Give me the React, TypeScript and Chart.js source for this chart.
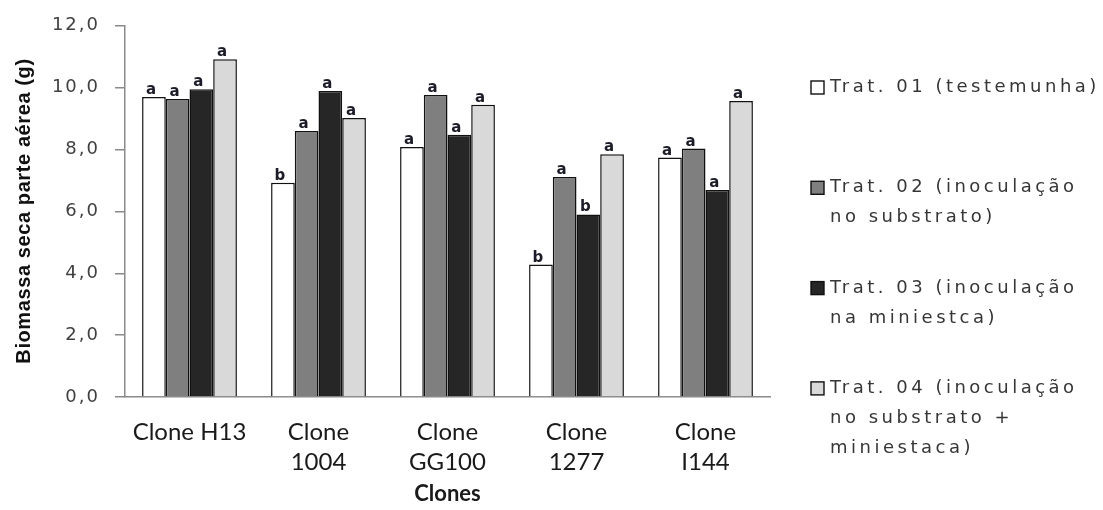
import React, { useEffect, useRef } from 'react';
import { Chart, registerables } from 'chart.js';

Chart.register(...registerables);

// ---- Data ----
const clones: (string | string[])[] = ['Clone H13', ['Clone', '1004'], ['Clone', 'GG100'], ['Clone', '1277'], ['Clone', 'I144']];

const trat01 = [9.70, 6.93, 8.08, 4.28, 7.74];
const trat02 = [9.63, 8.60, 9.76, 7.11, 8.03];
const trat03 = [9.95, 9.89, 8.48, 5.90, 6.69];
const trat04 = [10.92, 9.02, 9.45, 7.85, 9.57];

const letters01 = ['a', 'b', 'a', 'b', 'a'];
const letters02 = ['a', 'a', 'a', 'a', 'a'];
const letters03 = ['a', 'a', 'a', 'b', 'a'];
const letters04 = ['a', 'a', 'a', 'a', 'a'];

const legend01 = ['Trat. 01 (testemunha)'];
const legend02 = ['Trat. 02 (inoculação', 'no substrato)'];
const legend03 = ['Trat. 03 (inoculação', 'na miniestca)'];
const legend04 = ['Trat. 04 (inoculação', 'no substrato +', 'miniestaca)'];

const yTickLabels = ['0,0', '2,0', '4,0', '6,0', '8,0', '10,0', '12,0'];
const yTitle = 'Biomassa seca parte aérea (g)';
const xTitle = 'Clones';

const colors = ['#ffffff', '#7f7f7f', '#262626', '#d9d9d9'];
const seriesValues = [trat01, trat02, trat03, trat04];
const seriesLetters = [letters01, letters02, letters03, letters04];
const seriesLegend = [legend01, legend02, legend03, legend04];

const letterPlugin = {
  id: 'letters',
  beforeDraw(chart: any) {
    (chart.ctx as any).letterSpacing = '0px';
  },
  afterDatasetsDraw(chart: any) {
    const ctx = chart.ctx;
    ctx.save();
    (ctx as any).letterSpacing = '0px';
    ctx.font = 'bold 15px "DejaVu Sans"';
    ctx.fillStyle = '#1c1c28';
    ctx.textAlign = 'center';
    ctx.textBaseline = 'alphabetic';
    seriesLetters.forEach((letters, i) => {
      const meta = chart.getDatasetMeta(i);
      meta.data.forEach((el: any, j: number) => {
        ctx.fillText(letters[j], el.x - 3, el.y - 3);
      });
    });
    ctx.restore();
    // y tick labels (drawn after this, z = 1) use a wider letter spacing
    (ctx as any).letterSpacing = '2px';
  },
};

const decorPlugin = {
  id: 'decor',
  afterDraw(chart: any) {
    const ctx = chart.ctx;
    (ctx as any).letterSpacing = '0px';
    // y title
    ctx.save();
    ctx.translate(24, 211);
    ctx.rotate(-Math.PI / 2);
    ctx.font = 'bold 20px "Liberation Sans"';
    (ctx as any).letterSpacing = '0.6px';
    ctx.fillStyle = '#111111';
    ctx.textAlign = 'center';
    ctx.textBaseline = 'middle';
    ctx.fillText(yTitle, 0, 0);
    ctx.restore();

    // legend
    ctx.save();
    ctx.font = '18px "DejaVu Sans"';
    (ctx as any).letterSpacing = '3.5px';
    ctx.textBaseline = 'middle';
    ctx.textAlign = 'left';
    const startY = 87.5;
    const entryGap = 100.3;
    const lineH = 30;
    seriesLegend.forEach((lines, i) => {
      const y0 = startY + i * entryGap;
      ctx.fillStyle = colors[i];
      ctx.fillRect(811, y0 - 6.5, 13, 13);
      ctx.strokeStyle = '#111111';
      ctx.lineWidth = 1.4;
      ctx.strokeRect(811, y0 - 6.5, 13, 13);
      ctx.fillStyle = '#363636';
      lines.forEach((t, k) => {
        ctx.fillText(t, 830, y0 + k * lineH);
      });
    });
    ctx.restore();
  },
};

export default function App() {
  const ref = useRef<HTMLCanvasElement | null>(null);

  useEffect(() => {
    if (!ref.current) return;
    const chart = new Chart(ref.current, {
      type: 'bar',
      data: {
        labels: clones as any,
        datasets: seriesValues.map((vals, i) => ({
          label: seriesLegend[i].join(' '),
          data: vals,
          backgroundColor: colors[i],
          borderColor: '#111111',
          borderWidth: 1.5,
          categoryPercentage: 0.735,
          barPercentage: 1.0,
        })),
      },
      options: {
        animation: false,
        responsive: false,
        maintainAspectRatio: false,
        layout: { padding: { top: 24, right: 333, left: 0, bottom: 0 } },
        plugins: {
          legend: { display: false },
          tooltip: { enabled: false },
          title: { display: false },
        },
        scales: {
          x: {
            grid: { display: false, drawOnChartArea: false, drawTicks: false },
            border: { display: true, color: '#8a8a8a', width: 1.5 },
            ticks: {
              color: '#1a1a1a',
              font: { family: 'Lato', size: 24, lineHeight: 1.25 },
              padding: 20,
              maxRotation: 0,
              autoSkip: false,
            },
            title: {
              display: true,
              text: xTitle,
              color: '#1a1a1a',
              font: { family: 'Lato', size: 22, weight: 'bold', lineHeight: 1.2 },
              padding: { top: 0, bottom: 3 },
            },
            afterFit: (scale: any) => {
              scale.height = 113;
            },
          },
          y: {
            min: 0,
            max: 12,
            grid: { display: true, drawOnChartArea: false, drawTicks: true, tickLength: 10, color: '#8a8a8a', lineWidth: 1.5 },
            border: { display: true, color: '#8a8a8a', width: 1.5 },
            ticks: {
              z: 1,
              stepSize: 2,
              color: '#404040',
              font: { family: 'DejaVu Sans', size: 18 },
              padding: 15,
              callback: (v: any) => yTickLabels[Math.round(Number(v) / 2)],
            },
            afterFit: (scale: any) => {
              scale.width = 125;
            },
          },
        },
      },
      plugins: [letterPlugin, decorPlugin],
    });
    return () => chart.destroy();
  }, []);

  return (
    <div style={{ position: 'absolute', left: 0, top: 0, width: 1103, height: 510, background: '#ffffff' }}>
      <canvas ref={ref} width={1103} height={510} style={{ width: 1103, height: 510, display: 'block' }} />
    </div>
  );
}
